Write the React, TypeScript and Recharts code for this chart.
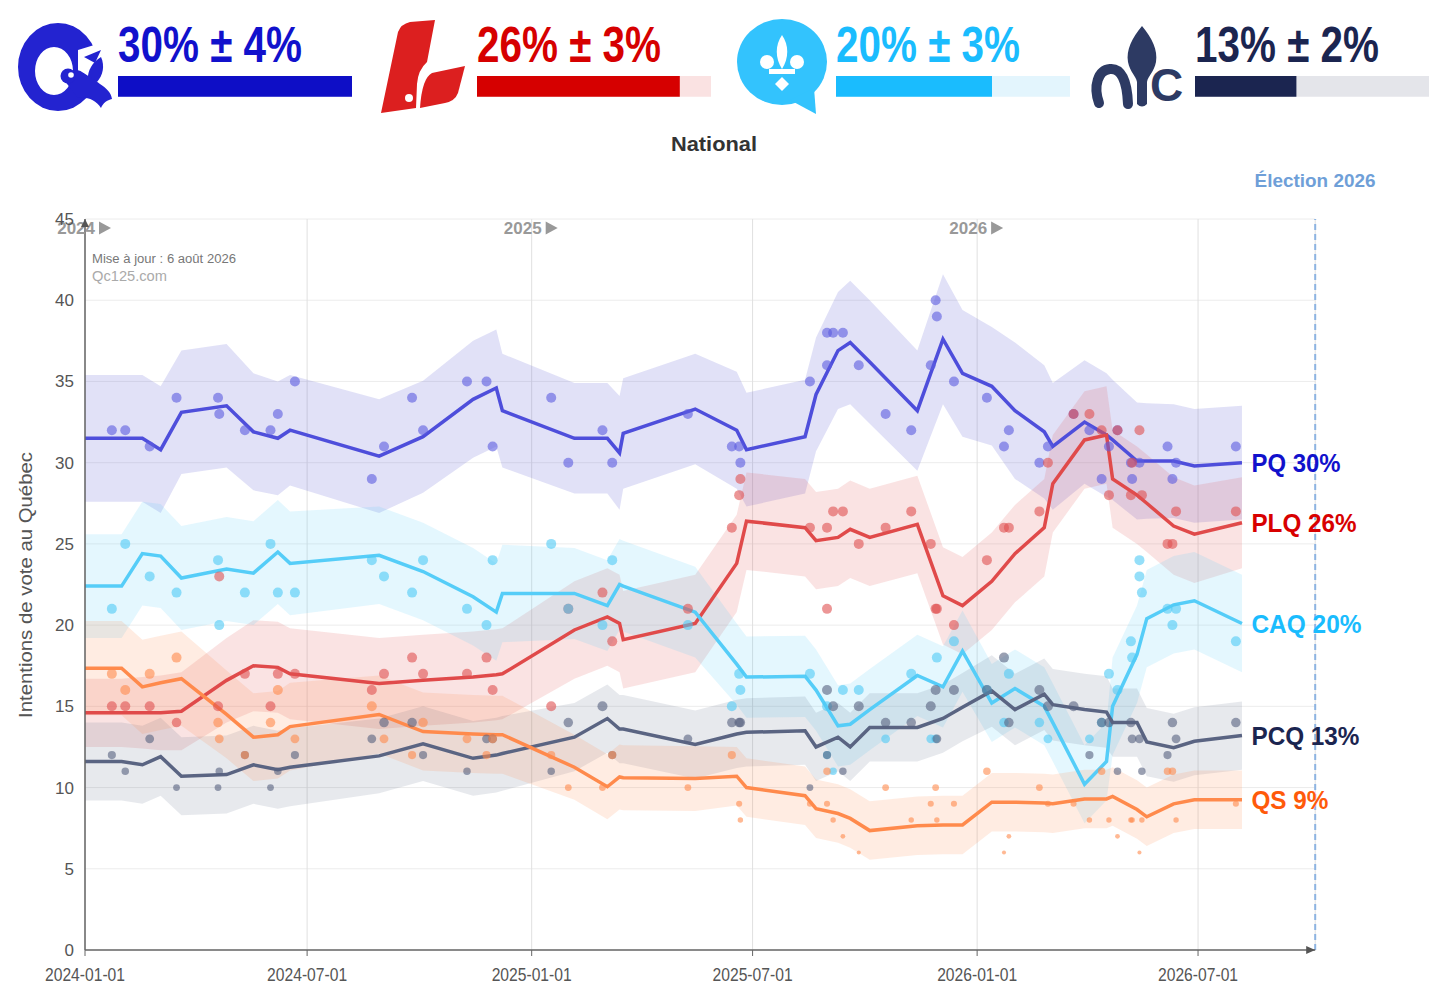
import React from 'react';
import {
  ComposedChart, Line, Area, Scatter, XAxis, YAxis, CartesianGrid,
  ReferenceLine, ReferenceDot, BarChart, Bar,
} from 'recharts';

const FONT = '"Liberation Sans", Arial, Helvetica, sans-serif';

// ---------------- DATA ----------------
const START_DATE = '2024-01-01';
const ELECTION_DATE = '2026-10-05';
const UPDATE_LABEL = 'Mise à jour : 6 août 2026';

const xTickDates = ['2024-01-01', '2024-07-01', '2025-01-01', '2025-07-01', '2026-01-01', '2026-07-01'];
const yTicks = [0, 5, 10, 15, 20, 25, 30, 35, 40, 45];
const yearMarks = ['2024', '2025', '2026'];

// polling-average knots
const avgDates = [
  '2024-01-01', '2024-01-31', '2024-02-17', '2024-03-03', '2024-03-20', '2024-04-26', '2024-05-18', '2024-06-07',
  '2024-06-17', '2024-08-29', '2024-10-04', '2024-11-14', '2024-12-03', '2024-12-08', '2025-02-05', '2025-03-04',
  '2025-03-14', '2025-03-17', '2025-05-15', '2025-06-18', '2025-06-26', '2025-08-13', '2025-08-22', '2025-09-09',
  '2025-09-19', '2025-10-05', '2025-11-13', '2025-12-04', '2025-12-20', '2026-01-13', '2026-02-01', '2026-02-25',
  '2026-03-04', '2026-03-30', '2026-04-17', '2026-04-22', '2026-05-12', '2026-05-20', '2026-06-11', '2026-06-28',
  '2026-08-06',
];

const pqAvg = [31.5, 31.5, 31.5, 30.8, 33.1, 33.5, 31.9, 31.5, 32.0, 30.4, 31.6, 33.9, 34.6, 33.2, 31.5, 31.5, 30.6, 31.8, 33.3, 32.0, 30.8, 31.6, 34.2, 36.9, 37.4, 36.2, 33.2, 37.6, 35.5, 34.7, 33.2, 31.9, 31.0, 32.5, 31.7, 31.4, 30.1, 30.1, 30.1, 29.8, 30.0];
const plqAvg = [14.6, 14.6, 14.6, 14.6, 14.7, 16.6, 17.5, 17.4, 17.0, 16.4, 16.6, 16.8, 16.95, 17.0, 19.7, 20.5, 20.1, 19.1, 20.1, 23.8, 26.4, 26.0, 25.2, 25.4, 25.9, 25.4, 26.2, 21.8, 21.2, 22.7, 24.4, 26.0, 28.7, 31.4, 31.7, 29.0, 28.0, 27.5, 26.1, 25.6, 26.3];
const caqAvg = [22.4, 22.4, 24.4, 24.25, 22.9, 23.45, 23.2, 24.5, 23.8, 24.3, 23.3, 21.75, 20.8, 21.95, 21.95, 21.2, 22.5, 22.4, 20.8, 17.6, 16.8, 16.85, 16.0, 13.8, 13.9, 14.8, 16.9, 16.2, 18.4, 15.2, 16.1, 15.0, 14.0, 10.2, 11.6, 15.0, 18.2, 20.4, 21.25, 21.5, 20.1];
const pcqAvg = [11.6, 11.6, 11.4, 11.9, 10.7, 10.8, 11.4, 11.1, 11.25, 11.95, 12.7, 11.8, 12.0, 12.1, 13.1, 14.25, 13.6, 13.6, 12.65, 13.3, 13.4, 13.5, 12.5, 13.1, 12.5, 13.7, 13.7, 14.25, 14.95, 15.95, 14.8, 15.75, 15.1, 14.8, 14.65, 14.0, 14.0, 12.8, 12.45, 12.85, 13.2];
const qsAvg = [17.35, 17.35, 16.2, 16.45, 16.7, 14.5, 13.1, 13.25, 13.75, 14.5, 13.45, 13.3, 13.25, 13.25, 11.25, 10.05, 10.65, 10.6, 10.55, 10.7, 10.0, 9.5, 8.7, 8.4, 8.1, 7.35, 7.65, 7.7, 7.7, 9.1, 9.1, 9.05, 9.0, 9.3, 9.3, 9.45, 8.65, 8.2, 9.0, 9.25, 9.25];

// half-width of the uncertainty band at each knot
const pqErr = [3.9, 3.9, 3.9, 3.9, 3.8, 3.8, 3.6, 3.5, 3.4, 3.5, 3.45, 3.6, 3.6, 3.5, 3.4, 3.4, 3.5, 3.4, 3.4, 3.6, 3.5, 3.5, 3.5, 3.6, 3.8, 3.8, 3.7, 4.0, 3.9, 3.65, 4.2, 4.1, 3.9, 3.8, 3.8, 3.7, 3.6, 3.55, 3.5, 3.5, 3.5];
const plqErr = [2.1, 2.1, 2.2, 2.3, 2.4, 2.6, 2.8, 2.8, 2.8, 2.8, 2.8, 2.8, 2.8, 2.8, 3.0, 3.0, 3.0, 3.0, 3.0, 3.0, 3.0, 3.0, 3.0, 3.0, 3.0, 3.0, 3.0, 3.0, 3.0, 3.0, 3.0, 3.0, 3.0, 3.0, 3.0, 3.0, 3.0, 3.0, 3.0, 3.0, 2.8];
const caqErr = [3.2, 3.2, 3.2, 3.2, 3.2, 3.2, 3.2, 3.2, 3.2, 3.0, 3.0, 3.0, 3.0, 3.0, 2.8, 2.8, 2.8, 2.8, 2.8, 2.5, 2.5, 2.5, 2.5, 2.5, 2.5, 2.5, 2.5, 2.5, 2.5, 2.4, 2.4, 2.4, 2.4, 2.4, 2.4, 3.0, 3.0, 3.0, 3.0, 3.0, 3.0];
const pcqErr = [2.4, 2.4, 2.4, 2.4, 2.4, 2.4, 2.4, 2.4, 2.4, 2.3, 2.3, 2.3, 2.3, 2.3, 2.1, 2.1, 2.1, 2.1, 2.1, 2.1, 2.1, 2.1, 2.1, 2.1, 2.1, 2.1, 2.1, 2.1, 2.1, 2.2, 2.2, 2.2, 2.2, 2.2, 2.2, 2.1, 2.1, 2.1, 2.1, 2.1, 2.1];
const qsErr = [2.9, 2.9, 2.9, 2.9, 2.9, 2.7, 2.7, 2.7, 2.7, 2.4, 2.4, 2.4, 2.4, 2.4, 2.0, 2.0, 2.0, 2.0, 2.0, 1.8, 1.8, 1.8, 1.8, 1.8, 1.8, 1.8, 1.8, 1.8, 1.8, 1.8, 1.8, 1.8, 1.8, 1.8, 1.8, 1.8, 1.8, 1.8, 1.8, 1.8, 1.8];

// individual polls
const pollDates = [
  '2024-01-23', '2024-02-03', '2024-02-23', '2024-03-16', '2024-04-19', '2024-04-20', '2024-05-11', '2024-06-01',
  '2024-06-07', '2024-06-21', '2024-08-23', '2024-09-02', '2024-09-25', '2024-10-04', '2024-11-09', '2024-11-25',
  '2024-11-30', '2025-01-17', '2025-01-31', '2025-02-28', '2025-03-08', '2025-05-09', '2025-06-14', '2025-06-20',
  '2025-06-21', '2025-08-17', '2025-08-31', '2025-08-31', '2025-09-05', '2025-09-13', '2025-09-26', '2025-10-18',
  '2025-11-08', '2025-11-24', '2025-11-28', '2025-11-29', '2025-12-13', '2026-01-09', '2026-01-23', '2026-01-27',
  '2026-02-21', '2026-02-28', '2026-03-21', '2026-04-03', '2026-04-13', '2026-04-19', '2026-04-26', '2026-05-07',
  '2026-05-08', '2026-05-14', '2026-05-14', '2026-05-16', '2026-06-06', '2026-06-10', '2026-06-13', '2026-08-01',
];
const pqPolls = [32, 32, 31, 34, 34, 33, 32, 32, 33, 35, 29, 31, 34, 32, 35, 35, 31, 34, 30, 32, 30, 33, 31, 31, 30, 35, 38, 36, 38, 38, 36, 33, 32, 36, 40, 39, 35, 34, 31, 32, 30, 31, 33, 32, 29, 31, 32, 30, 29, 30, null, null, 31, 29, 30, 31];
const plqPolls = [15, 15, 15, 14, 15, 23, 17, 15, 17, 17, 16, 17, 18, 17, 17, 18, 16, 15, 21, 22, 19, 21, 26, 28, 29, 26, 26, 21, 27, 27, 25, 26, 27, 25, 21, 21, 20, 24, 26, 26, 27, 30, 33, 33, 32, 28, 32, 28, 30, 32, null, 28, 25, 25, 27, 27];
const caqPolls = [21, 25, 23, 22, 24, 20, 22, 25, 22, 22, 24, 23, 22, 24, 21, 20, 24, 25, 21, 20, 24, 20, 15, 17, 16, 17, 15, 12, 11, 16, 16, 13, 17, 13, 13, 18, 19, 16, 14, 17, 14, 13, null, 13, 14, 17, 16, 19, 18, 24, 23, 22, 21, 20, 21, 19];
const pcqPolls = [12, 11, 13, 10, 10, 11, 12, 10, 11, 12, 13, 14, 14, 12, 11, 13, 13, 11, 14, 15, 12, 13, 14, 14, 14, 10, 12, 16, 15, 11, 15, 14, 14, 15, 16, 13, 16, 16, 18, 14, 16, 15, 15, 12, 14, 14, 11, 14, 13, 13, null, 11, 12, 14, 13, 14];
const qsPolls = [17, 16, 17, 18, 14, 13, 12, 14, 16, 13, 15, 13, 12, 14, 13, 12, 13, 12, 10, 10, 12, 10, 12, 9, 8, 9, 9, 11, 8, 7, 6, 10, 8, 9, 10, 8, 9, 11, 6, 7, 10, 9, 9, 8, 11, 8, 7, 8, 8, 6, null, 8, 11, 11, 8, 9];

// header summary
const headerValues = [30, 26, 20, 13];
const headerMargins = [4, 3, 3, 2];
const finalValues = [30, 26, 20, 13, 9];

// ---------------- STYLE ----------------
const PARTIES = [
  { key: 'pq', name: 'PQ', avg: pqAvg, err: pqErr, polls: pqPolls, line: '#4e4edb', dot: '#5c5ce0', band: '#6b6bd6', bandOp: 0.2, label: '#1111cc' },
  { key: 'plq', name: 'PLQ', avg: plqAvg, err: plqErr, polls: plqPolls, line: '#e04a4a', dot: '#e05050', band: '#e05050', bandOp: 0.16, label: '#d80000' },
  { key: 'caq', name: 'CAQ', avg: caqAvg, err: caqErr, polls: caqPolls, line: '#55cdf8', dot: '#4fc9f5', band: '#55cdf7', bandOp: 0.16, label: '#1abcfe' },
  { key: 'pcq', name: 'PCQ', avg: pcqAvg, err: pcqErr, polls: pcqPolls, line: '#5a6482', dot: '#56607e', band: '#56607e', bandOp: 0.14, label: '#1b2550' },
  { key: 'qs', name: 'QS', avg: qsAvg, err: qsErr, polls: qsPolls, line: '#ff8a4c', dot: '#ff8a4c', band: '#ff8a4c', bandOp: 0.16, label: '#ff5a0a' },
];
const LABEL_WIDTHS = [89, 105, 110, 108, 77];

const HEADER = [
  { left: 118, text: '#1111cc', fill: '#0e0ec6', bg: '#e0e0f8' },
  { left: 477, text: '#d60000', fill: '#d60000', bg: '#fae2e2' },
  { left: 836, text: '#1abcfe', fill: '#1abcfe', bg: '#e3f5fd' },
  { left: 1195, text: '#1b2550', fill: '#1b2550', bg: '#e4e5ea' },
];

const toT = (d: string) => Date.parse(d + 'T00:00:00Z');
const X0 = toT(START_DATE);
const X1 = toT(ELECTION_DATE);
const xTicks = xTickDates.map(toT);

const avgTable = avgDates.map((d, i) => {
  const row: any = { t: toT(d) };
  PARTIES.forEach((p) => {
    row[p.key] = p.avg[i];
    row[p.key + 'Band'] = [p.avg[i] - p.err[i], p.avg[i] + p.err[i]];
  });
  return row;
});

const pollData = PARTIES.map((p) =>
  pollDates
    .map((d, i) => ({ t: toT(d), v: p.polls[i] }))
    .filter((r) => r.v !== null && r.v !== undefined)
);

const lastIdx = avgDates.length - 1;

const dotShape = (color: string) => (props: any) => {
  const { cx, cy, payload } = props;
  if (cx == null || cy == null) return <g />;
  const r = Math.min(5, payload.v * 0.34);
  return <circle cx={cx} cy={cy} r={r} fill={color} fillOpacity={0.6} />;
};

const XTick = (props: any) => {
  const { x, y, payload } = props;
  const s = new Date(payload.value).toISOString().slice(0, 10);
  return (
    <text x={x} y={y + 23} textAnchor="middle" fontSize={18} fill="#555" fontFamily={FONT}
      textLength={80} lengthAdjust="spacingAndGlyphs">{s}</text>
  );
};

const yearShape = (label: string) => (p: any) => (
  <g>
    <text x={p.cx + 10} y={p.cy + 15} textAnchor="end" fontSize={17} fontWeight={700} fill="#999" fontFamily={FONT}>{label}</text>
    <polygon points={`${p.cx + 14},${p.cy + 2.5} ${p.cx + 26},${p.cy + 9} ${p.cx + 14},${p.cy + 15.5}`} fill="#999" />
  </g>
);

const endLabelShape = (text: string, color: string, w: number) => (p: any) => (
  <text x={p.cx + 9.5} y={p.cy + 9.5} fontSize={26} fontWeight={700} fill={color} fontFamily={FONT}
    textLength={w} lengthAdjust="spacingAndGlyphs">{text}</text>
);

const upArrow = (p: any) => (
  <polygon points={`${p.cx},${p.cy} ${p.cx - 4},${p.cy + 8} ${p.cx + 4},${p.cy + 8}`} fill="#555" />
);
const rightArrow = (p: any) => (
  <polygon points={`${p.cx},${p.cy} ${p.cx - 9},${p.cy - 4} ${p.cx - 9},${p.cy + 4}`} fill="#555" />
);

function HeaderBar({ value, max, color, bg }: { value: number; max: number; color: string; bg: string }) {
  return (
    <BarChart width={234} height={23} data={[{ name: 'v', value }]} layout="vertical"
      margin={{ top: 0, right: 0, bottom: 0, left: 0 }} barCategoryGap={0}>
      <XAxis type="number" domain={[0, max]} hide />
      <YAxis type="category" dataKey="name" hide />
      <Bar dataKey="value" fill={color} background={{ fill: bg }} isAnimationActive={false} barSize={23} />
    </BarChart>
  );
}

function Logos() {
  const pqBlue = '#2323d0';
  return (
    <svg width={1434} height={125} style={{ position: 'absolute', left: 0, top: 0 }}>
      {/* PQ */}
      <path fillRule="evenodd" fill={pqBlue}
        d="M18,67 a40,44 0 1,0 80,0 a40,44 0 1,0 -80,0 Z M35,71 a19,24 0 1,0 38,0 a19,24 0 1,0 -38,0 Z" />
      <polygon points="78,50 104,42 104,80 78,80" fill="#fff" />
      <path d="M84,57 L101,50 L95,63 Z" fill={pqBlue} />
      <path d="M88,80 C87,70 93,62 101,57 C105,66 103,75 97,82 Z" fill={pqBlue} />
      <path d="M64,80 C66,70 76,68 82,72 C90,77 95,80 100,84 C106,88 111,92 112,99 C107,100 103,103 101,108 C96,100 88,97 78,98 Z" fill={pqBlue} />
      <circle cx={68} cy={76} r={7.5} fill={pqBlue} />
      <circle cx={71} cy={75} r={2.8} fill="#fff" />
      {/* PLQ */}
      <path d="M381,113 L398,32 Q401,24 410,22 L435,20 L427,62 Q418,70 417,84 L416,108 Z" fill="#dc1f1f" />
      <path d="M420,108 Q422,78 432,73 L465,66 L458,93 Q455,101 445,103 Z" fill="#dc1f1f" />
      <circle cx={409} cy={98} r={4} fill="#fff" />
      {/* CAQ */}
      <ellipse cx={782} cy={62} rx={45} ry={43} fill="#33c3fd" />
      <polygon points="790,100 816,114 814,88" fill="#33c3fd" />
      <path d="M782,35 C775,45 775,58 782,69 C789,58 789,45 782,35 Z" fill="#fff" />
      <circle cx={767} cy={62} r={7} fill="#fff" />
      <circle cx={797} cy={62} r={7} fill="#fff" />
      <rect x={769} y={69} width={26} height={5} fill="#fff" />
      <path d="M782,77 L789,84 L782,91 L775,84 Z" fill="#fff" />
      {/* PCQ */}
      <path d="M1142,26 C1132,38 1126,50 1128,62 C1130,72 1136,76 1137,82 L1137,104 Q1142,109 1147,104 L1147,82 C1148,76 1154,72 1156,62 C1158,50 1152,38 1142,26 Z" fill="#2d3a63" />
      <path d="M1099,103 C1093,86 1098,70 1110,69 C1121,68 1127,80 1128,104" stroke="#2d3a63" strokeWidth={10} fill="none" strokeLinecap="round" />
      <text x={1150} y={101} fontSize={46} fontWeight={700} fill="#2d3a63" fontFamily={FONT}>C</text>
      {/* numbers */}
      {headerValues.map((v, i) => (
        <text key={i} x={HEADER[i].left} y={62} fontSize={50} fontWeight={700} fill={HEADER[i].text} fontFamily={FONT}
          textLength={184} lengthAdjust="spacingAndGlyphs">{`${v}% ± ${headerMargins[i]}%`}</text>
      ))}
    </svg>
  );
}

export default function App() {
  const headerMax = Math.max(...headerValues);
  return (
    <div style={{ position: 'absolute', left: 0, top: 0, width: 1434, height: 998, background: '#fff', fontFamily: FONT, overflow: 'hidden' }}>
      <div style={{ position: 'absolute', left: 0, top: 0 }}>
        <ComposedChart width={1434} height={998} data={avgTable}
          margin={{ top: 219, right: 118.8, bottom: 18, left: 25 }}>
          <CartesianGrid horizontal={true} vertical={false} stroke="#ececec" />
          <CartesianGrid horizontal={false} vertical={true} stroke="#e0e0e0" />
          <XAxis dataKey="t" type="number" domain={[X0, X1]} ticks={xTicks} allowDataOverflow
            height={30} tickSize={6} tick={<XTick />} interval={0}
            axisLine={{ stroke: '#666', strokeWidth: 1.5 }} tickLine={{ stroke: '#666' }} />
          <YAxis type="number" domain={[0, 45]} ticks={yTicks} width={60} tickLine={false} tickMargin={5}
            axisLine={{ stroke: '#666', strokeWidth: 1.5 }} interval={0}
            tick={{ fill: '#555', fontSize: 17, fontFamily: FONT }} />
          {PARTIES.map((p) => (
            <Area key={p.key + 'b'} dataKey={p.key + 'Band'} type="linear" stroke="none" fill={p.band}
              fillOpacity={p.bandOp} isAnimationActive={false} dot={false} activeDot={false} />
          ))}
          {PARTIES.map((p, i) => (
            <Scatter key={p.key + 's'} data={pollData[i]} dataKey="v" isAnimationActive={false}
              shape={dotShape(p.dot)} />
          ))}
          {PARTIES.map((p) => (
            <Line key={p.key + 'l'} dataKey={p.key} type="linear" stroke={p.line} strokeWidth={3.5}
              dot={false} activeDot={false} isAnimationActive={false} />
          ))}
          <ReferenceLine x={X1} stroke="#8db4e2" strokeWidth={2} strokeDasharray="6 4" ifOverflow="visible" />
          {yearMarks.map((y) => (
            <ReferenceDot key={y} x={toT(y + '-01-01')} y={45} r={0} ifOverflow="visible" shape={yearShape(y)} />
          ))}
          <ReferenceDot x={X0} y={45} r={0} ifOverflow="visible" shape={upArrow} />
          <ReferenceDot x={X1} y={0} r={0} ifOverflow="visible" shape={rightArrow} />
          {PARTIES.map((p, i) => (
            <ReferenceDot key={p.key + 'lab'} x={toT(avgDates[lastIdx])} y={p.avg[lastIdx]} r={0} ifOverflow="visible"
              shape={endLabelShape(`${p.name} ${finalValues[i]}%`, p.label, LABEL_WIDTHS[i])} />
          ))}
        </ComposedChart>
      </div>

      <svg width={1434} height={998} style={{ position: 'absolute', left: 0, top: 0, pointerEvents: 'none' }}>
        <text x={714} y={151} textAnchor="middle" fontSize={20} fontWeight={700} fill="#333" fontFamily={FONT}
          textLength={86} lengthAdjust="spacingAndGlyphs">National</text>
        <text x={1315} y={187} textAnchor="middle" fontSize={18} fontWeight={700} fill="#6f9fd8" fontFamily={FONT}
          textLength={121} lengthAdjust="spacingAndGlyphs">Élection 2026</text>
        <text x={92} y={263} fontSize={12.5} fill="#777" fontFamily={FONT}
          textLength={144} lengthAdjust="spacingAndGlyphs">{UPDATE_LABEL}</text>
        <text x={92} y={281} fontSize={15} fill="#aaa" fontFamily={FONT}
          textLength={75} lengthAdjust="spacingAndGlyphs">Qc125.com</text>
        <text x={32} y={585} transform="rotate(-90 32 585)" textAnchor="middle" fontSize={19} fill="#555" fontFamily={FONT}
          textLength={266} lengthAdjust="spacingAndGlyphs">Intentions de vote au Québec</text>
      </svg>

      <Logos />
      {headerValues.map((v, i) => (
        <div key={i} style={{ position: 'absolute', left: HEADER[i].left, top: 75 }}>
          <HeaderBar value={v} max={headerMax} color={HEADER[i].fill} bg={HEADER[i].bg} />
        </div>
      ))}
    </div>
  );
}
